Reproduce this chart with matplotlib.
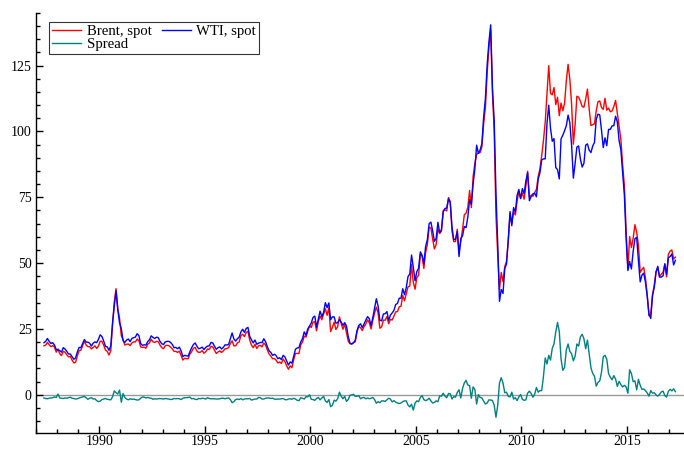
import numpy as np
import pandas as pd
import matplotlib
matplotlib.use("Agg")
import matplotlib.pyplot as plt
from matplotlib.ticker import MultipleLocator

# monthly spot prices, May 1987 - Apr 2017 (USD/bbl)
start_month = "1987-05-01"

wti = [
    19.8, 20.3, 21.4, 20.3, 19.5, 19.8, 18.9, 17.2,
    17.1, 16.8, 16.2, 17.9, 17.4, 16.5, 15.5, 15.5, 14.5, 13.5, 14.0, 16.3,
    18.0, 17.9, 19.5, 21.0, 20.0, 20.0, 19.6, 18.5, 19.6, 20.1, 19.8, 21.1,
    22.8, 22.1, 20.4, 18.4, 18.2, 16.9, 18.6, 27.2, 33.7, 39.5, 32.3, 27.3,
    25.2, 20.5, 19.9, 20.8, 21.2, 20.2, 21.4, 21.7, 21.9, 23.2, 22.5, 19.5,
    18.8, 19.0, 18.9, 20.2, 20.9, 22.4, 21.8, 21.4, 21.9, 21.7, 20.3, 19.4,
    19.1, 20.1, 20.3, 20.3, 19.9, 19.1, 17.9, 18.0, 17.5, 18.1, 16.7, 14.5,
    15.0, 14.8, 14.7, 16.4, 17.9, 19.1, 19.7, 18.4, 17.5, 17.7, 18.1, 17.2,
    18.0, 18.5, 18.6, 19.9, 19.7, 18.4, 17.3, 17.9, 18.2, 17.4, 18.0, 19.0,
    18.9, 19.1, 21.3, 23.5, 21.2, 20.4, 21.3, 21.9, 23.9, 24.9, 23.7, 25.2,
    25.6, 22.2, 20.9, 19.7, 20.8, 19.2, 19.6, 19.9, 19.8, 21.3, 20.2, 18.3,
    16.7, 16.1, 15.0, 15.4, 14.9, 13.7, 14.1, 13.4, 15.0, 14.4, 12.9, 11.3,
    12.5, 12.0, 14.7, 17.3, 17.8, 17.9, 20.1, 21.3, 23.9, 22.6, 25.0, 26.1,
    27.3, 29.4, 29.9, 25.7, 28.8, 31.8, 29.7, 31.3, 35.0, 33.1, 34.9, 28.5,
    29.6, 29.6, 27.2, 27.4, 28.6, 27.6, 26.4, 27.4, 26.2, 22.2, 19.6, 19.3,
    19.7, 20.7, 24.4, 26.3, 27.0, 25.5, 26.9, 28.4, 29.7, 28.9, 26.3, 29.4,
    32.9, 36.5, 33.6, 28.3, 28.1, 30.7, 30.8, 31.6, 28.3, 30.3, 31.1, 32.1,
    34.3, 34.7, 36.7, 36.7, 40.3, 38.0, 40.7, 44.9, 45.9, 53.1, 48.5, 43.3,
    46.8, 48.0, 54.3, 53.0, 49.8, 56.3, 59.0, 65.0, 65.6, 62.3, 58.3, 59.4,
    65.5, 61.6, 62.7, 69.4, 70.8, 70.9, 74.4, 73.0, 63.8, 58.9, 59.1, 62.0,
    52.5, 59.3, 60.4, 63.9, 63.5, 67.5, 74.1, 72.4, 79.9, 85.8, 94.8, 91.7,
    93.0, 95.4, 105.5, 112.6, 125.4, 134.0, 140.5, 116.7, 104.1, 76.6, 57.3, 35.5,
    40.0, 38.5, 47.9, 49.7, 59.0, 69.6, 64.2, 71.1, 69.4, 75.7, 78.0, 74.5,
    78.3, 76.4, 81.2, 84.3, 73.7, 75.3, 76.3, 76.6, 75.2, 81.9, 84.3, 89.2,
    89.6, 89.6, 102.9, 110.0, 101.3, 96.3, 97.3, 86.3, 85.5, 82.0, 97.2, 98.6,
    100.3, 102.2, 106.2, 103.3, 94.7, 82.3, 87.9, 94.1, 94.5, 89.5, 86.5, 87.9,
    94.8, 95.3, 92.9, 92.0, 94.5, 95.8, 104.6, 106.6, 106.3, 100.5, 93.9, 97.6,
    94.6, 100.8, 100.8, 102.1, 102.2, 105.8, 103.6, 96.5, 93.2, 84.4, 75.8, 59.3,
    47.2, 50.6, 47.8, 54.5, 59.3, 59.8, 50.9, 42.9, 45.5, 46.2, 42.7, 37.3,
    30.5, 29.0, 37.6, 40.8, 46.7, 48.8, 44.7, 44.7, 45.2, 49.8, 45.7, 52.0,
    52.5, 53.5, 49.3, 51.1,
]

brent = [
    18.6, 18.9, 19.9, 19.0, 18.3, 18.7, 18.1, 16.2,
    17.4, 15.6, 14.9, 16.5, 16.2, 15.2, 14.4, 14.6, 13.2, 12.1, 12.4, 14.8,
    16.8, 16.9, 18.7, 20.4, 18.9, 18.3, 18.3, 17.4, 18.0, 18.6, 17.6, 18.5,
    20.4, 20.3, 18.8, 17.0, 16.5, 15.1, 16.7, 26.4, 35.2, 40.3, 32.6, 29.1,
    22.4, 21.0, 18.9, 19.2, 19.3, 18.7, 19.7, 20.1, 20.1, 21.2, 20.6, 18.2,
    18.0, 18.1, 17.7, 19.2, 19.7, 21.1, 20.1, 19.9, 20.3, 20.2, 18.9, 17.9,
    17.5, 18.7, 18.8, 18.7, 18.1, 17.4, 16.5, 16.5, 16.1, 16.6, 14.9, 13.2,
    13.9, 13.7, 13.7, 15.5, 16.4, 17.7, 18.0, 16.6, 16.1, 16.2, 16.8, 15.8,
    16.4, 17.4, 17.2, 18.4, 18.2, 16.9, 15.7, 16.3, 16.7, 16.1, 16.7, 17.5,
    17.6, 17.9, 19.5, 20.5, 18.6, 18.6, 19.7, 20.1, 22.5, 23.0, 22.1, 23.7,
    24.1, 20.8, 18.9, 17.9, 19.2, 17.6, 18.6, 18.8, 18.2, 19.7, 18.9, 17.1,
    15.5, 14.7, 13.7, 13.8, 13.2, 12.1, 12.5, 11.9, 13.6, 12.6, 11.0, 9.7,
    11.0, 10.3, 13.4, 15.7, 15.7, 15.7, 19.0, 20.0, 22.3, 21.9, 24.2, 26.1,
    25.6, 27.6, 27.8, 24.3, 27.8, 29.9, 28.5, 30.7, 32.7, 30.2, 33.1, 24.0,
    25.6, 27.6, 24.8, 25.9, 29.6, 27.1, 24.9, 26.8, 23.7, 20.4, 19.4, 19.3,
    19.9, 20.1, 23.9, 26.0, 25.5, 24.4, 25.9, 26.9, 28.5, 27.4, 25.0, 28.4,
    31.1, 33.3, 31.0, 25.3, 25.8, 28.4, 28.3, 29.7, 27.0, 28.7, 28.4, 29.9,
    31.5, 31.6, 33.4, 33.6, 37.7, 35.7, 38.4, 41.0, 41.3, 49.5, 42.7, 40.1,
    44.5, 45.4, 53.3, 52.7, 48.0, 54.1, 57.1, 63.7, 63.3, 59.2, 55.4, 57.1,
    62.9, 61.2, 62.2, 70.0, 70.3, 69.8, 74.9, 73.4, 62.2, 58.2, 58.2, 62.9,
    54.4, 58.1, 62.8, 68.4, 69.0, 71.2, 77.6, 71.1, 82.9, 87.8, 91.3, 91.8,
    92.0, 94.2, 103.1, 109.1, 122.3, 132.1, 138.5, 114.6, 100.1, 68.1, 53.3, 40.0,
    46.5, 43.0, 48.7, 50.7, 58.4, 68.8, 65.2, 69.5, 68.3, 73.5, 77.2, 74.6,
    76.6, 74.3, 79.3, 84.9, 75.1, 75.8, 75.4, 76.8, 78.0, 82.9, 85.9, 90.8,
    96.6, 103.6, 114.6, 125.0, 114.5, 113.9, 116.7, 110.2, 113.0, 106.0, 110.8, 107.9,
    110.7, 119.3, 125.5, 119.8, 110.3, 95.2, 102.6, 113.4, 113.0, 111.5, 109.5, 109.2,
    112.3, 116.1, 108.5, 102.3, 102.6, 102.9, 107.9, 111.3, 111.6, 109.1, 108.4, 112.6,
    108.1, 108.9, 107.5, 107.8, 109.5, 111.8, 106.8, 101.6, 97.1, 87.4, 79.4, 62.3,
    47.8, 60.1, 55.9, 59.5, 64.6, 61.7, 56.8, 46.5, 47.6, 48.4, 44.3, 38.0,
    30.0, 30.6, 38.2, 41.6, 46.7, 48.3, 44.9, 45.8, 46.6, 49.5, 44.8, 53.3,
    54.6, 55.0, 51.6, 52.3,
]

brent = np.array(brent)
wti = np.array(wti)
spread = brent - wti

dates = pd.date_range(start_month, periods=len(wti), freq="MS")
t = dates.year + (dates.month - 0.5) / 12.0

plt.rcParams["font.family"] = ["Liberation Serif", "DejaVu Serif"]
plt.rcParams["font.size"] = 10

fig = plt.figure(figsize=(6.84, 4.5), dpi=100)
ax = fig.add_axes([36 / 684, 17 / 450, 648 / 684, 420 / 450])

ax.axhline(0, color="#999999", lw=1.0, zorder=1)
l1, = ax.plot(t, brent, color="#ff0000", lw=1.0, label="Brent, spot", zorder=2)
l2, = ax.plot(t, wti, color="#0000ff", lw=1.0, label="WTI, spot", zorder=3)
l3, = ax.plot(t, spread, color="#008080", lw=1.0, label="Spread", zorder=4)

ax.set_xlim(1987.0, 2017.7)
ax.set_ylim(-14.5, 145)

ax.spines["top"].set_visible(False)
ax.spines["right"].set_visible(False)
ax.spines["left"].set_linewidth(1.0)
ax.spines["bottom"].set_linewidth(1.0)

ax.xaxis.set_major_locator(MultipleLocator(5))
ax.xaxis.set_minor_locator(MultipleLocator(1))
ax.yaxis.set_major_locator(MultipleLocator(25))
ax.yaxis.set_minor_locator(MultipleLocator(5))
ax.tick_params(which="both", direction="in", labelsize=10)
ax.tick_params(which="major", length=5, width=1)
ax.tick_params(which="minor", length=3, width=1)
ax.tick_params(axis="y", pad=3)
ax.tick_params(axis="x", pad=1.5)

leg = ax.legend([l1, l3, l2], ["Brent, spot", "Spread", "WTI, spot"],
                ncol=2, loc="upper left", bbox_to_anchor=(0.02, 0.979),
                borderaxespad=0, frameon=True, fancybox=False,
                handlelength=2.0, handletextpad=0.35, columnspacing=0.7,
                labelspacing=0.0, borderpad=0.2, fontsize=10.6)
leg.get_frame().set_edgecolor("black")
leg.get_frame().set_linewidth(0.8)

fig.savefig("out.png", dpi=100)
